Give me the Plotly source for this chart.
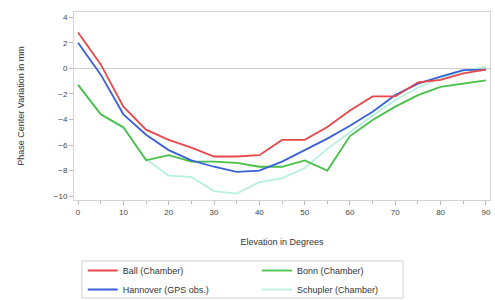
import plotly.graph_objects as go

elevation = [0, 5, 10, 15, 20, 25, 30, 35, 40, 45, 50, 55, 60, 65, 70, 75, 80, 85, 90]
ball = [2.8, 0.3, -3.0, -4.8, -5.6, -6.2, -6.9, -6.9, -6.8, -5.6, -5.6, -4.6, -3.3, -2.2, -2.2, -1.1, -0.9, -0.4, -0.1]
hannover = [2.0, -0.5, -3.6, -5.2, -6.4, -7.2, -7.7, -8.1, -8.0, -7.3, -6.4, -5.5, -4.5, -3.4, -2.1, -1.2, -0.65, -0.15, -0.1]
bonn = [-1.3, -3.6, -4.6, -7.2, -6.8, -7.3, -7.3, -7.4, -7.7, -7.7, -7.2, -8.0, -5.3, -4.05, -3.0, -2.1, -1.45, -1.2, -0.95]
schupler = [-1.3, -3.6, -4.7, -7.1, -8.4, -8.5, -9.6, -9.8, -8.9, -8.6, -7.8, -6.3, -5.0, -3.7, -2.5, -1.5, -0.8, -0.2, 0.1]

names = ["Ball (Chamber)", "Hannover (GPS obs.)", "Bonn (Chamber)", "Schupler (Chamber)"]
colors = ["#e8484a", "#3a60d8", "#46c046", "#b8f0de"]
legends = ["legend", "legend", "legend2", "legend2"]
ranks = [1, 2, 1, 2]
series = [ball, hannover, bonn, schupler]

fig = go.Figure()
for i in [3, 2, 1, 0]:
    fig.add_trace(go.Scatter(
        x=elevation, y=series[i], mode="lines", name=names[i],
        line=dict(color=colors[i], width=1.8), legendrank=ranks[i],
        legend=legends[i]))

font = "Liberation Sans, Arial, sans-serif"
leg_common = dict(orientation="v", xanchor="left", yanchor="top", y=-0.298,
                  bgcolor="rgba(0,0,0,0)", borderwidth=0,
                  font=dict(size=9, color="#333"), tracegroupgap=0,
                  traceorder="normal")
fig.update_layout(
    width=495, height=300,
    margin=dict(l=74, r=5, t=12, b=100, autoexpand=False),
    paper_bgcolor="white", plot_bgcolor="white",
    font=dict(family=font, size=9, color="#444"),
    showlegend=True,
    legend=dict(x=0.021, **leg_common),
    legend2=dict(x=0.44, **leg_common),
    shapes=[dict(type="rect", xref="paper", yref="paper",
                 x0=0.019, x1=0.791, y0=-0.521, y1=-0.324,
                 line=dict(color="#d0d0d0", width=1), fillcolor="rgba(0,0,0,0)",
                 layer="below")],
)
fig.update_xaxes(range=[-0.9, 90.9], tickvals=[0, 10, 20, 30, 40, 50, 60, 70, 80, 90],
                 ticks="outside", ticklen=4, tickcolor="#bbb", automargin=False,
                 minor=dict(dtick=5, ticks="outside", ticklen=3, tickcolor="#bbb"),
                 showgrid=False, zeroline=False,
                 showline=True, mirror=True, linecolor="#d4d4d4", linewidth=1,
                 title=dict(text="Elevation in Degrees", font=dict(size=9, color="#333"), standoff=23),
                 tickfont=dict(size=8, color="#444"))
fig.update_yaxes(range=[-10.3, 4.4], tickvals=[-10, -8, -6, -4, -2, 0, 2, 4],
                 ticks="outside", ticklen=4, tickcolor="#bbb", automargin=False,
                 showgrid=False, zeroline=True, zerolinecolor="#cfcfcf", zerolinewidth=1,
                 showline=True, mirror=True, linecolor="#d4d4d4", linewidth=1,
                 title=dict(text="Phase Center Variation in mm", font=dict(size=9, color="#333"), standoff=27),
                 tickfont=dict(size=8, color="#444"))

fig.write_html("out.html", config={"displayModeBar": False},
               post_script="document.body.style.margin='0';document.body.style.overflow='hidden';")
